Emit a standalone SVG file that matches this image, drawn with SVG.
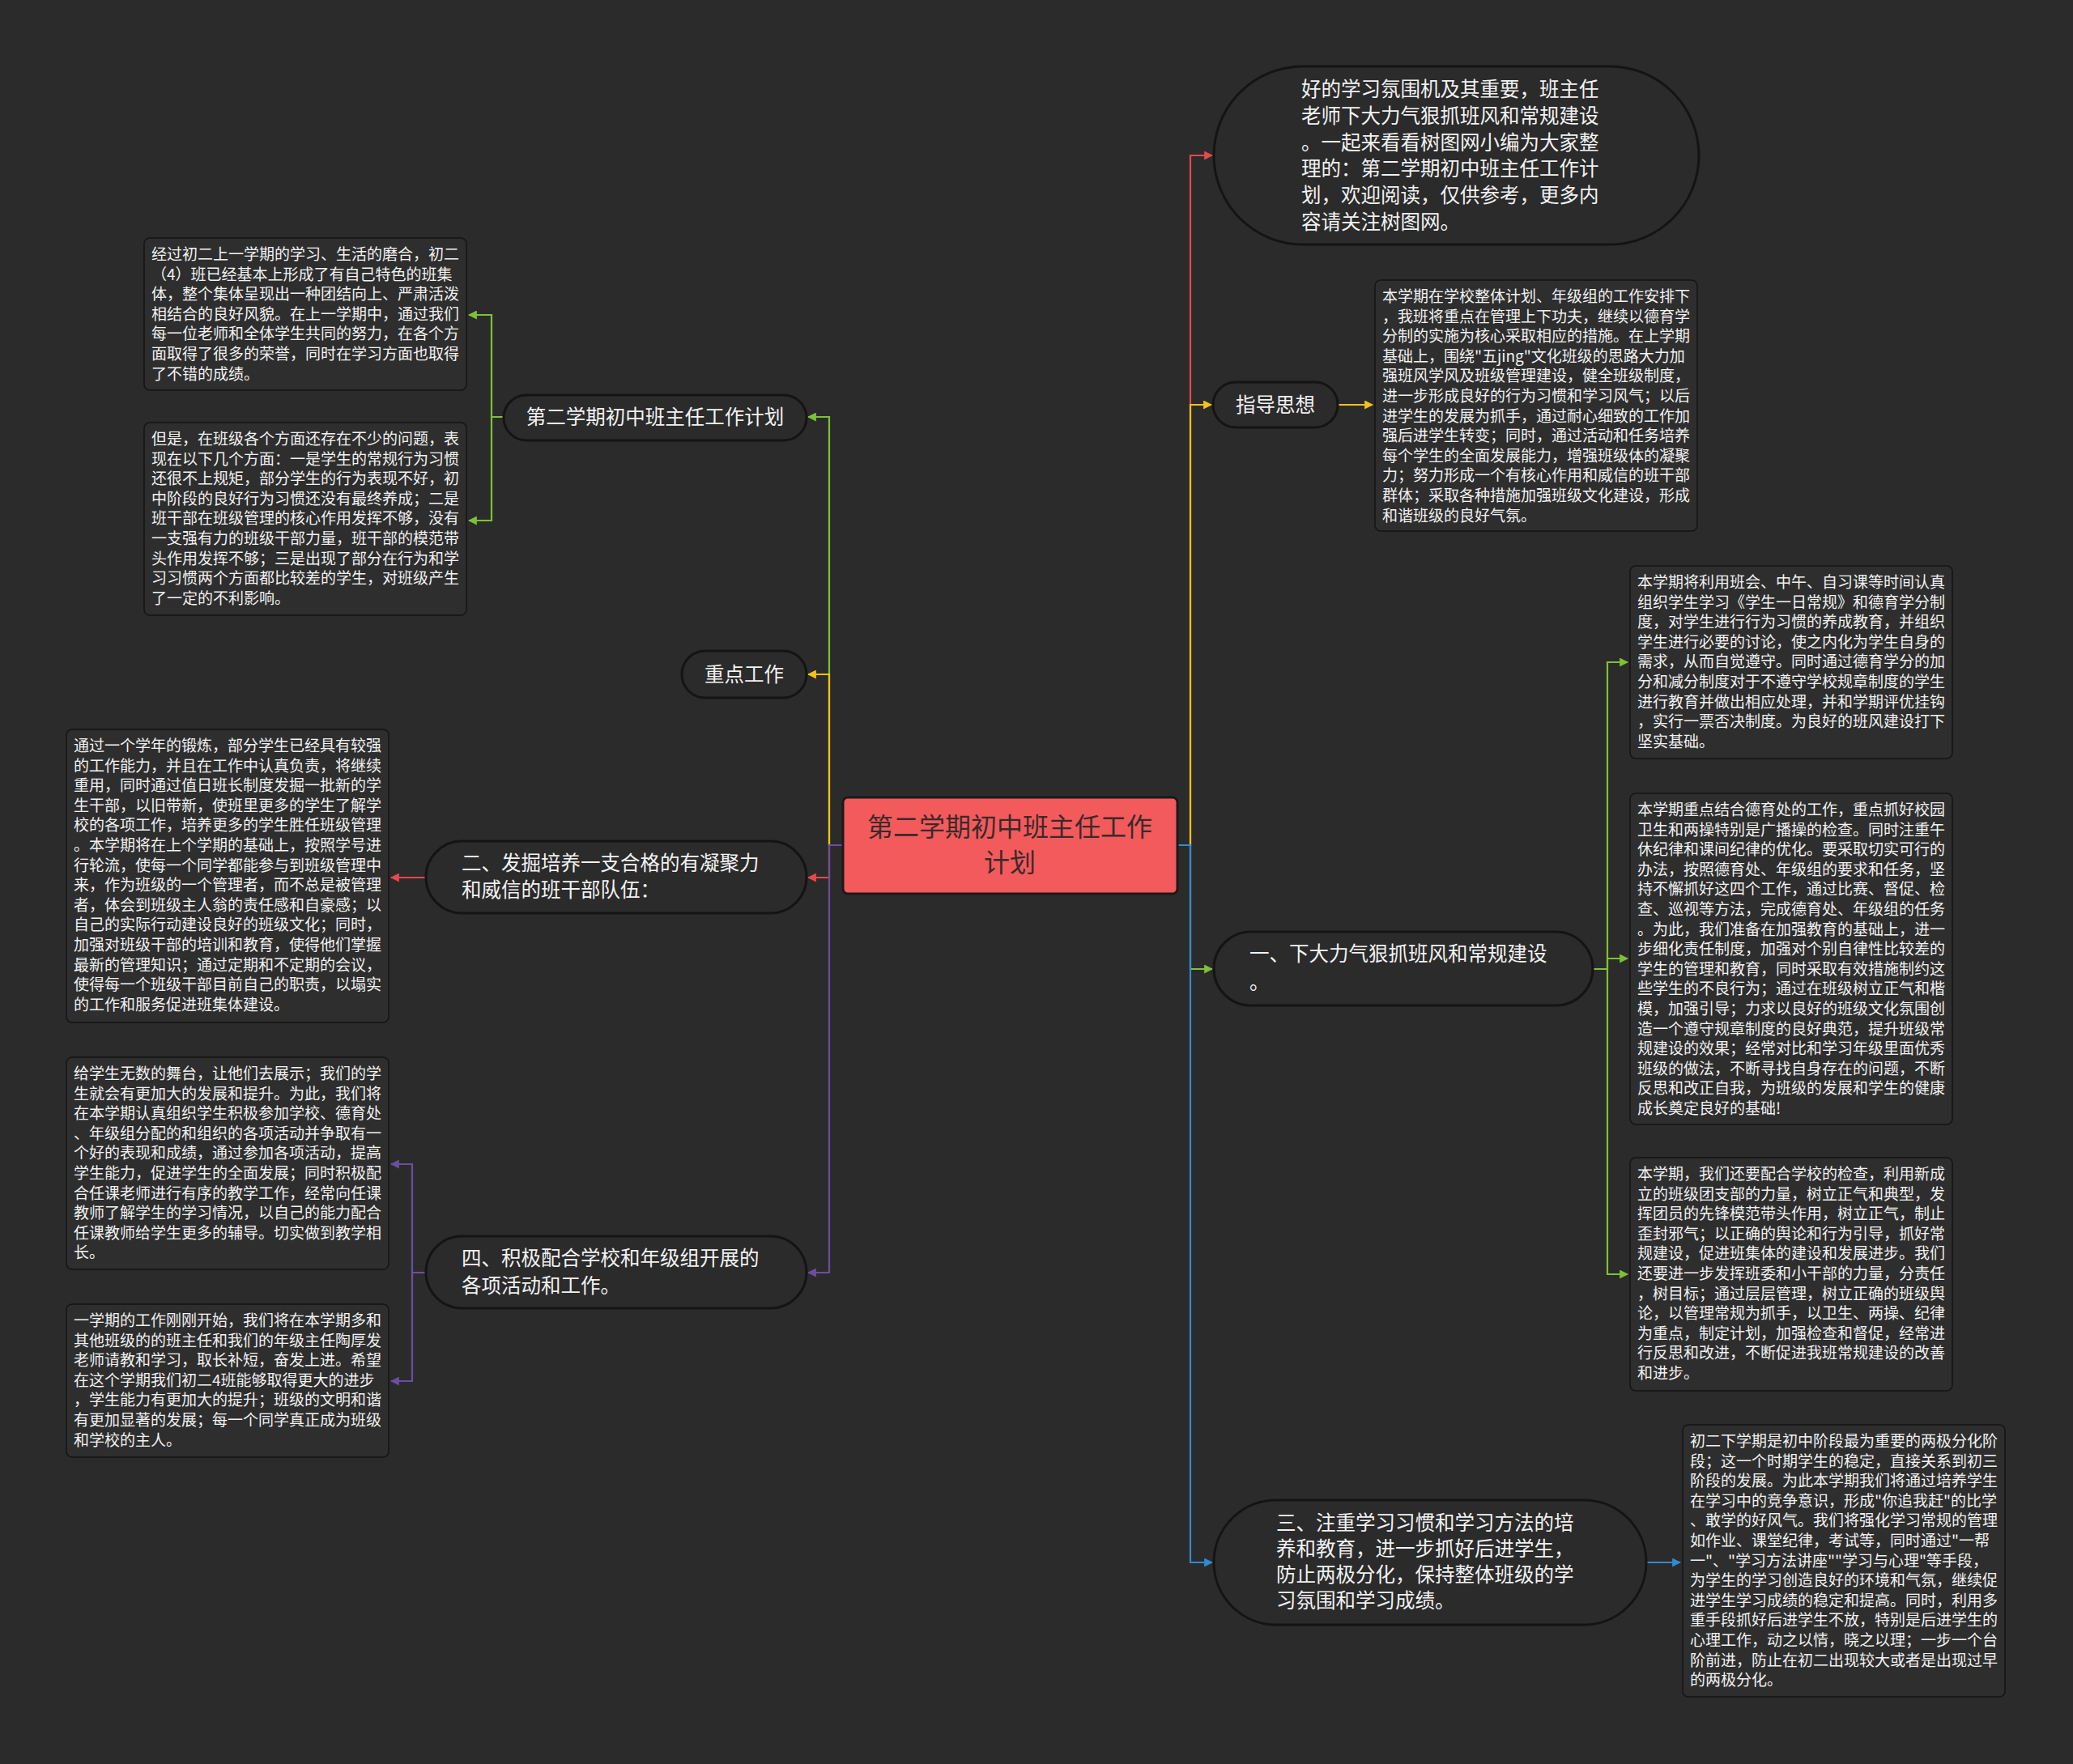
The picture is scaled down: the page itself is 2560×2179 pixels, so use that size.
<svg xmlns="http://www.w3.org/2000/svg" width="2560" height="2179" viewBox="0 0 2560 2179">
<style>
text{font-family:"Noto Sans CJK SC","Microsoft YaHei",sans-serif;fill:#f2f2f2}
.t{font-size:19px}
.b{font-size:24.5px}
.c{font-size:32px;fill:#3a2a2a}
.box{fill:#2e2e2e;stroke:#141414;stroke-width:1.5}
.nd{fill:#2b2b2b;stroke:#141414;stroke-width:3}
.ln{fill:none;stroke-width:2.2}
</style>
<defs>
<marker id="aG" viewBox="0 0 10 10" refX="9" refY="5" markerWidth="11" markerHeight="11" markerUnits="userSpaceOnUse" orient="auto"><path d="M0,0L10,5L0,10z" fill="#7dc234"/></marker>
<marker id="aY" viewBox="0 0 10 10" refX="9" refY="5" markerWidth="11" markerHeight="11" markerUnits="userSpaceOnUse" orient="auto"><path d="M0,0L10,5L0,10z" fill="#f2c21b"/></marker>
<marker id="aR" viewBox="0 0 10 10" refX="9" refY="5" markerWidth="11" markerHeight="11" markerUnits="userSpaceOnUse" orient="auto"><path d="M0,0L10,5L0,10z" fill="#e5484d"/></marker>
<marker id="aP" viewBox="0 0 10 10" refX="9" refY="5" markerWidth="11" markerHeight="11" markerUnits="userSpaceOnUse" orient="auto"><path d="M0,0L10,5L0,10z" fill="#6d4e9e"/></marker>
<marker id="aB" viewBox="0 0 10 10" refX="9" refY="5" markerWidth="11" markerHeight="11" markerUnits="userSpaceOnUse" orient="auto"><path d="M0,0L10,5L0,10z" fill="#2f8bd3"/></marker>
</defs>
<rect width="2560" height="2179" fill="#2b2b2b"/>

<g id="connectors">
<path class="ln" stroke="#7dc234" d="M1041,1044H1024V515H998" marker-end="url(#aG)"/>
<path class="ln" stroke="#f2c21b" d="M1041,1044H1024V833H998" marker-end="url(#aY)"/>
<path class="ln" stroke="#e5484d" d="M1041,1044H1024V1084H998" marker-end="url(#aR)"/>
<path class="ln" stroke="#6d4e9e" d="M1041,1044H1024V1572H998" marker-end="url(#aP)"/>
<path class="ln" stroke="#e5484d" d="M1454,1044H1470V192H1497" marker-end="url(#aR)"/>
<path class="ln" stroke="#f2c21b" d="M1454,1044H1470V500H1496" marker-end="url(#aY)"/>
<path class="ln" stroke="#7dc234" d="M1454,1044H1470V1197H1497" marker-end="url(#aG)"/>
<path class="ln" stroke="#2f8bd3" d="M1454,1044H1470V1930H1497" marker-end="url(#aB)"/>
<path class="ln" stroke="#7dc234" d="M622,515H607V389H579" marker-end="url(#aG)"/>
<path class="ln" stroke="#7dc234" d="M607,515V643H579" marker-end="url(#aG)"/>
<path class="ln" stroke="#e5484d" d="M526,1084H483" marker-end="url(#aR)"/>
<path class="ln" stroke="#6d4e9e" d="M526,1572H509V1438H483" marker-end="url(#aP)"/>
<path class="ln" stroke="#6d4e9e" d="M509,1572V1706H483" marker-end="url(#aP)"/>
<path class="ln" stroke="#f2c21b" d="M1652,500H1695" marker-end="url(#aY)"/>
<path class="ln" stroke="#7dc234" d="M1967,1197H1985V818H2010" marker-end="url(#aG)"/>
<path class="ln" stroke="#7dc234" d="M1985,1197V1184H2010" marker-end="url(#aG)"/>
<path class="ln" stroke="#7dc234" d="M1985,1197V1574H2010" marker-end="url(#aG)"/>
<path class="ln" stroke="#2f8bd3" d="M2033,1930H2075" marker-end="url(#aB)"/>
</g>

<g id="center">
<rect x="1041" y="985" width="413" height="119" rx="6" fill="#f25a5c" stroke="#1a1a1a" stroke-width="3"/>
<text class="c" text-anchor="middle"><tspan x="1247" y="1033">第二学期初中班主任工作</tspan><tspan x="1247" y="1077">计划</tspan></text>
</g>

<g id="n-intro">
<rect class="nd" x="1499" y="82" width="599" height="220" rx="110"/>
<text class="b"><tspan x="1607" y="119">好的学习氛围机及其重要，班主任</tspan><tspan x="1607" y="152">老师下大力气狠抓班风和常规建设</tspan><tspan x="1607" y="185">。一起来看看树图网小编为大家整</tspan><tspan x="1607" y="217">理的：第二学期初中班主任工作计</tspan><tspan x="1607" y="250">划，欢迎阅读，仅供参考，更多内</tspan><tspan x="1607" y="283">容请关注树图网。</tspan></text>
</g>

<g id="n-zhidao">
<rect class="nd" x="1498" y="472" width="154" height="56" rx="28"/>
<text class="b" text-anchor="middle" x="1575" y="509">指导思想</text>
</g>

<g id="t-zhidao">
<rect class="box" x="1698" y="346" width="398" height="310" rx="7"/>
<text class="t"><tspan x="1707" y="373">本学期在学校整体计划、年级组的工作安排下</tspan><tspan x="1707" y="397.6">，我班将重点在管理上下功夫，继续以德育学</tspan><tspan x="1707" y="422.2">分制的实施为核心采取相应的措施。在上学期</tspan><tspan x="1707" y="446.8">基础上，围绕"五jing"文化班级的思路大力加</tspan><tspan x="1707" y="471.4">强班风学风及班级管理建设，健全班级制度，</tspan><tspan x="1707" y="496">进一步形成良好的行为习惯和学习风气；以后</tspan><tspan x="1707" y="520.6">进学生的发展为抓手，通过耐心细致的工作加</tspan><tspan x="1707" y="545.2">强后进学生转变；同时，通过活动和任务培养</tspan><tspan x="1707" y="569.8">每个学生的全面发展能力，增强班级体的凝聚</tspan><tspan x="1707" y="594.4">力；努力形成一个有核心作用和威信的班干部</tspan><tspan x="1707" y="619">群体；采取各种措施加强班级文化建设，形成</tspan><tspan x="1707" y="643.6">和谐班级的良好气氛。</tspan></text>
</g>

<g id="n-one">
<rect class="nd" x="1499" y="1151" width="468" height="91" rx="45.5"/>
<text class="b"><tspan x="1543" y="1187">一、下大力气狠抓班风和常规建设</tspan><tspan x="1543" y="1222">。</tspan></text>
</g>

<g id="t-one-1">
<rect class="box" x="2013" y="699" width="398" height="238" rx="7"/>
<text class="t"><tspan x="2022" y="726">本学期将利用班会、中午、自习课等时间认真</tspan><tspan x="2022" y="750.6">组织学生学习《学生一日常规》和德育学分制</tspan><tspan x="2022" y="775.2">度，对学生进行行为习惯的养成教育，并组织</tspan><tspan x="2022" y="799.8">学生进行必要的讨论，使之内化为学生自身的</tspan><tspan x="2022" y="824.4">需求，从而自觉遵守。同时通过德育学分的加</tspan><tspan x="2022" y="849">分和减分制度对于不遵守学校规章制度的学生</tspan><tspan x="2022" y="873.6">进行教育并做出相应处理，并和学期评优挂钩</tspan><tspan x="2022" y="898.2">，实行一票否决制度。为良好的班风建设打下</tspan><tspan x="2022" y="922.8">坚实基础。</tspan></text>
</g>

<g id="t-one-2">
<rect class="box" x="2013" y="980" width="398" height="409" rx="7"/>
<text class="t"><tspan x="2022" y="1007">本学期重点结合德育处的工作，重点抓好校园</tspan><tspan x="2022" y="1031.6">卫生和两操特别是广播操的检查。同时注重午</tspan><tspan x="2022" y="1056.2">休纪律和课间纪律的优化。要采取切实可行的</tspan><tspan x="2022" y="1080.8">办法，按照德育处、年级组的要求和任务，坚</tspan><tspan x="2022" y="1105.4">持不懈抓好这四个工作，通过比赛、督促、检</tspan><tspan x="2022" y="1130">查、巡视等方法，完成德育处、年级组的任务</tspan><tspan x="2022" y="1154.6">。为此，我们准备在加强教育的基础上，进一</tspan><tspan x="2022" y="1179.2">步细化责任制度，加强对个别自律性比较差的</tspan><tspan x="2022" y="1203.8">学生的管理和教育，同时采取有效措施制约这</tspan><tspan x="2022" y="1228.4">些学生的不良行为；通过在班级树立正气和楷</tspan><tspan x="2022" y="1253">模，加强引导；力求以良好的班级文化氛围创</tspan><tspan x="2022" y="1277.6">造一个遵守规章制度的良好典范，提升班级常</tspan><tspan x="2022" y="1302.2">规建设的效果；经常对比和学习年级里面优秀</tspan><tspan x="2022" y="1326.8">班级的做法，不断寻找自身存在的问题，不断</tspan><tspan x="2022" y="1351.4">反思和改正自我，为班级的发展和学生的健康</tspan><tspan x="2022" y="1376">成长奠定良好的基础!</tspan></text>
</g>

<g id="t-one-3">
<rect class="box" x="2013" y="1430" width="398" height="288" rx="7"/>
<text class="t"><tspan x="2022" y="1457">本学期，我们还要配合学校的检查，利用新成</tspan><tspan x="2022" y="1481.6">立的班级团支部的力量，树立正气和典型，发</tspan><tspan x="2022" y="1506.2">挥团员的先锋模范带头作用，树立正气，制止</tspan><tspan x="2022" y="1530.8">歪封邪气；以正确的舆论和行为引导，抓好常</tspan><tspan x="2022" y="1555.4">规建设，促进班集体的建设和发展进步。我们</tspan><tspan x="2022" y="1580">还要进一步发挥班委和小干部的力量，分责任</tspan><tspan x="2022" y="1604.6">，树目标；通过层层管理，树立正确的班级舆</tspan><tspan x="2022" y="1629.2">论，以管理常规为抓手，以卫生、两操、纪律</tspan><tspan x="2022" y="1653.8">为重点，制定计划，加强检查和督促，经常进</tspan><tspan x="2022" y="1678.4">行反思和改进，不断促进我班常规建设的改善</tspan><tspan x="2022" y="1703">和进步。</tspan></text>
</g>

<g id="n-three">
<rect class="nd" x="1499" y="1853" width="534" height="154" rx="77"/>
<text class="b"><tspan x="1576" y="1890">三、注重学习习惯和学习方法的培</tspan><tspan x="1576" y="1922">养和教育，进一步抓好后进学生，</tspan><tspan x="1576" y="1954">防止两极分化，保持整体班级的学</tspan><tspan x="1576" y="1986">习氛围和学习成绩。</tspan></text>
</g>

<g id="t-three">
<rect class="box" x="2078" y="1760" width="398" height="336" rx="7"/>
<text class="t"><tspan x="2087" y="1787">初二下学期是初中阶段最为重要的两极分化阶</tspan><tspan x="2087" y="1811.6">段；这一个时期学生的稳定，直接关系到初三</tspan><tspan x="2087" y="1836.2">阶段的发展。为此本学期我们将通过培养学生</tspan><tspan x="2087" y="1860.8">在学习中的竞争意识，形成"你追我赶"的比学</tspan><tspan x="2087" y="1885.4">、敢学的好风气。我们将强化学习常规的管理</tspan><tspan x="2087" y="1910">如作业、课堂纪律，考试等，同时通过"一帮</tspan><tspan x="2087" y="1934.6">一"、"学习方法讲座""学习与心理"等手段，</tspan><tspan x="2087" y="1959.2">为学生的学习创造良好的环境和气氛，继续促</tspan><tspan x="2087" y="1983.8">进学生学习成绩的稳定和提高。同时，利用多</tspan><tspan x="2087" y="2008.4">重手段抓好后进学生不放，特别是后进学生的</tspan><tspan x="2087" y="2033">心理工作，动之以情，晓之以理；一步一个台</tspan><tspan x="2087" y="2057.6">阶前进，防止在初二出现较大或者是出现过早</tspan><tspan x="2087" y="2082.2">的两极分化。</tspan></text>
</g>

<g id="n-plan">
<rect class="nd" x="622" y="488" width="374" height="56" rx="28"/>
<text class="b" text-anchor="middle" x="809" y="524">第二学期初中班主任工作计划</text>
</g>

<g id="t-plan-1">
<rect class="box" x="178" y="294" width="398" height="188" rx="7"/>
<text class="t"><tspan x="187" y="321">经过初二上一学期的学习、生活的磨合，初二</tspan><tspan x="187" y="345.6">（4）班已经基本上形成了有自己特色的班集</tspan><tspan x="187" y="370.2">体，整个集体呈现出一种团结向上、严肃活泼</tspan><tspan x="187" y="394.8">相结合的良好风貌。在上一学期中，通过我们</tspan><tspan x="187" y="419.4">每一位老师和全体学生共同的努力，在各个方</tspan><tspan x="187" y="444">面取得了很多的荣誉，同时在学习方面也取得</tspan><tspan x="187" y="468.6">了不错的成绩。</tspan></text>
</g>

<g id="t-plan-2">
<rect class="box" x="178" y="522" width="398" height="238" rx="7"/>
<text class="t"><tspan x="187" y="549">但是，在班级各个方面还存在不少的问题，表</tspan><tspan x="187" y="573.6">现在以下几个方面：一是学生的常规行为习惯</tspan><tspan x="187" y="598.2">还很不上规矩，部分学生的行为表现不好，初</tspan><tspan x="187" y="622.8">中阶段的良好行为习惯还没有最终养成；二是</tspan><tspan x="187" y="647.4">班干部在班级管理的核心作用发挥不够，没有</tspan><tspan x="187" y="672">一支强有力的班级干部力量，班干部的模范带</tspan><tspan x="187" y="696.6">头作用发挥不够；三是出现了部分在行为和学</tspan><tspan x="187" y="721.2">习习惯两个方面都比较差的学生，对班级产生</tspan><tspan x="187" y="745.8">了一定的不利影响。</tspan></text>
</g>

<g id="n-key">
<rect class="nd" x="842" y="804" width="154" height="58" rx="29"/>
<text class="b" text-anchor="middle" x="919" y="842">重点工作</text>
</g>

<g id="n-two">
<rect class="nd" x="526" y="1039" width="470" height="89" rx="44.5"/>
<text class="b"><tspan x="570" y="1075">二、发掘培养一支合格的有凝聚力</tspan><tspan x="570" y="1108">和威信的班干部队伍：</tspan></text>
</g>

<g id="t-two">
<rect class="box" x="82" y="901" width="398" height="362" rx="7"/>
<text class="t"><tspan x="91" y="928">通过一个学年的锻炼，部分学生已经具有较强</tspan><tspan x="91" y="952.6">的工作能力，并且在工作中认真负责，将继续</tspan><tspan x="91" y="977.2">重用，同时通过值日班长制度发掘一批新的学</tspan><tspan x="91" y="1001.8">生干部，以旧带新，使班里更多的学生了解学</tspan><tspan x="91" y="1026.4">校的各项工作，培养更多的学生胜任班级管理</tspan><tspan x="91" y="1051">。本学期将在上个学期的基础上，按照学号进</tspan><tspan x="91" y="1075.6">行轮流，使每一个同学都能参与到班级管理中</tspan><tspan x="91" y="1100.2">来，作为班级的一个管理者，而不总是被管理</tspan><tspan x="91" y="1124.8">者，体会到班级主人翁的责任感和自豪感；以</tspan><tspan x="91" y="1149.4">自己的实际行动建设良好的班级文化；同时，</tspan><tspan x="91" y="1174">加强对班级干部的培训和教育，使得他们掌握</tspan><tspan x="91" y="1198.6">最新的管理知识；通过定期和不定期的会议，</tspan><tspan x="91" y="1223.2">使得每一个班级干部目前自己的职责，以塌实</tspan><tspan x="91" y="1247.8">的工作和服务促进班集体建设。</tspan></text>
</g>

<g id="n-four">
<rect class="nd" x="526" y="1527" width="470" height="89" rx="44.5"/>
<text class="b"><tspan x="570" y="1563">四、积极配合学校和年级组开展的</tspan><tspan x="570" y="1597">各项活动和工作。</tspan></text>
</g>

<g id="t-four-1">
<rect class="box" x="82" y="1306" width="398" height="262" rx="7"/>
<text class="t"><tspan x="91" y="1333">给学生无数的舞台，让他们去展示；我们的学</tspan><tspan x="91" y="1357.6">生就会有更加大的发展和提升。为此，我们将</tspan><tspan x="91" y="1382.2">在本学期认真组织学生积极参加学校、德育处</tspan><tspan x="91" y="1406.8">、年级组分配的和组织的各项活动并争取有一</tspan><tspan x="91" y="1431.4">个好的表现和成绩，通过参加各项活动，提高</tspan><tspan x="91" y="1456">学生能力，促进学生的全面发展；同时积极配</tspan><tspan x="91" y="1480.6">合任课老师进行有序的教学工作，经常向任课</tspan><tspan x="91" y="1505.2">教师了解学生的学习情况，以自己的能力配合</tspan><tspan x="91" y="1529.8">任课教师给学生更多的辅导。切实做到教学相</tspan><tspan x="91" y="1554.4">长。</tspan></text>
</g>

<g id="t-four-2">
<rect class="box" x="82" y="1611" width="398" height="189" rx="7"/>
<text class="t"><tspan x="91" y="1638">一学期的工作刚刚开始，我们将在本学期多和</tspan><tspan x="91" y="1662.6">其他班级的的班主任和我们的年级主任陶厚发</tspan><tspan x="91" y="1687.2">老师请教和学习，取长补短，奋发上进。希望</tspan><tspan x="91" y="1711.8">在这个学期我们初二4班能够取得更大的进步</tspan><tspan x="91" y="1736.4">，学生能力有更加大的提升；班级的文明和谐</tspan><tspan x="91" y="1761">有更加显著的发展；每一个同学真正成为班级</tspan><tspan x="91" y="1785.6">和学校的主人。</tspan></text>
</g>
</svg>
